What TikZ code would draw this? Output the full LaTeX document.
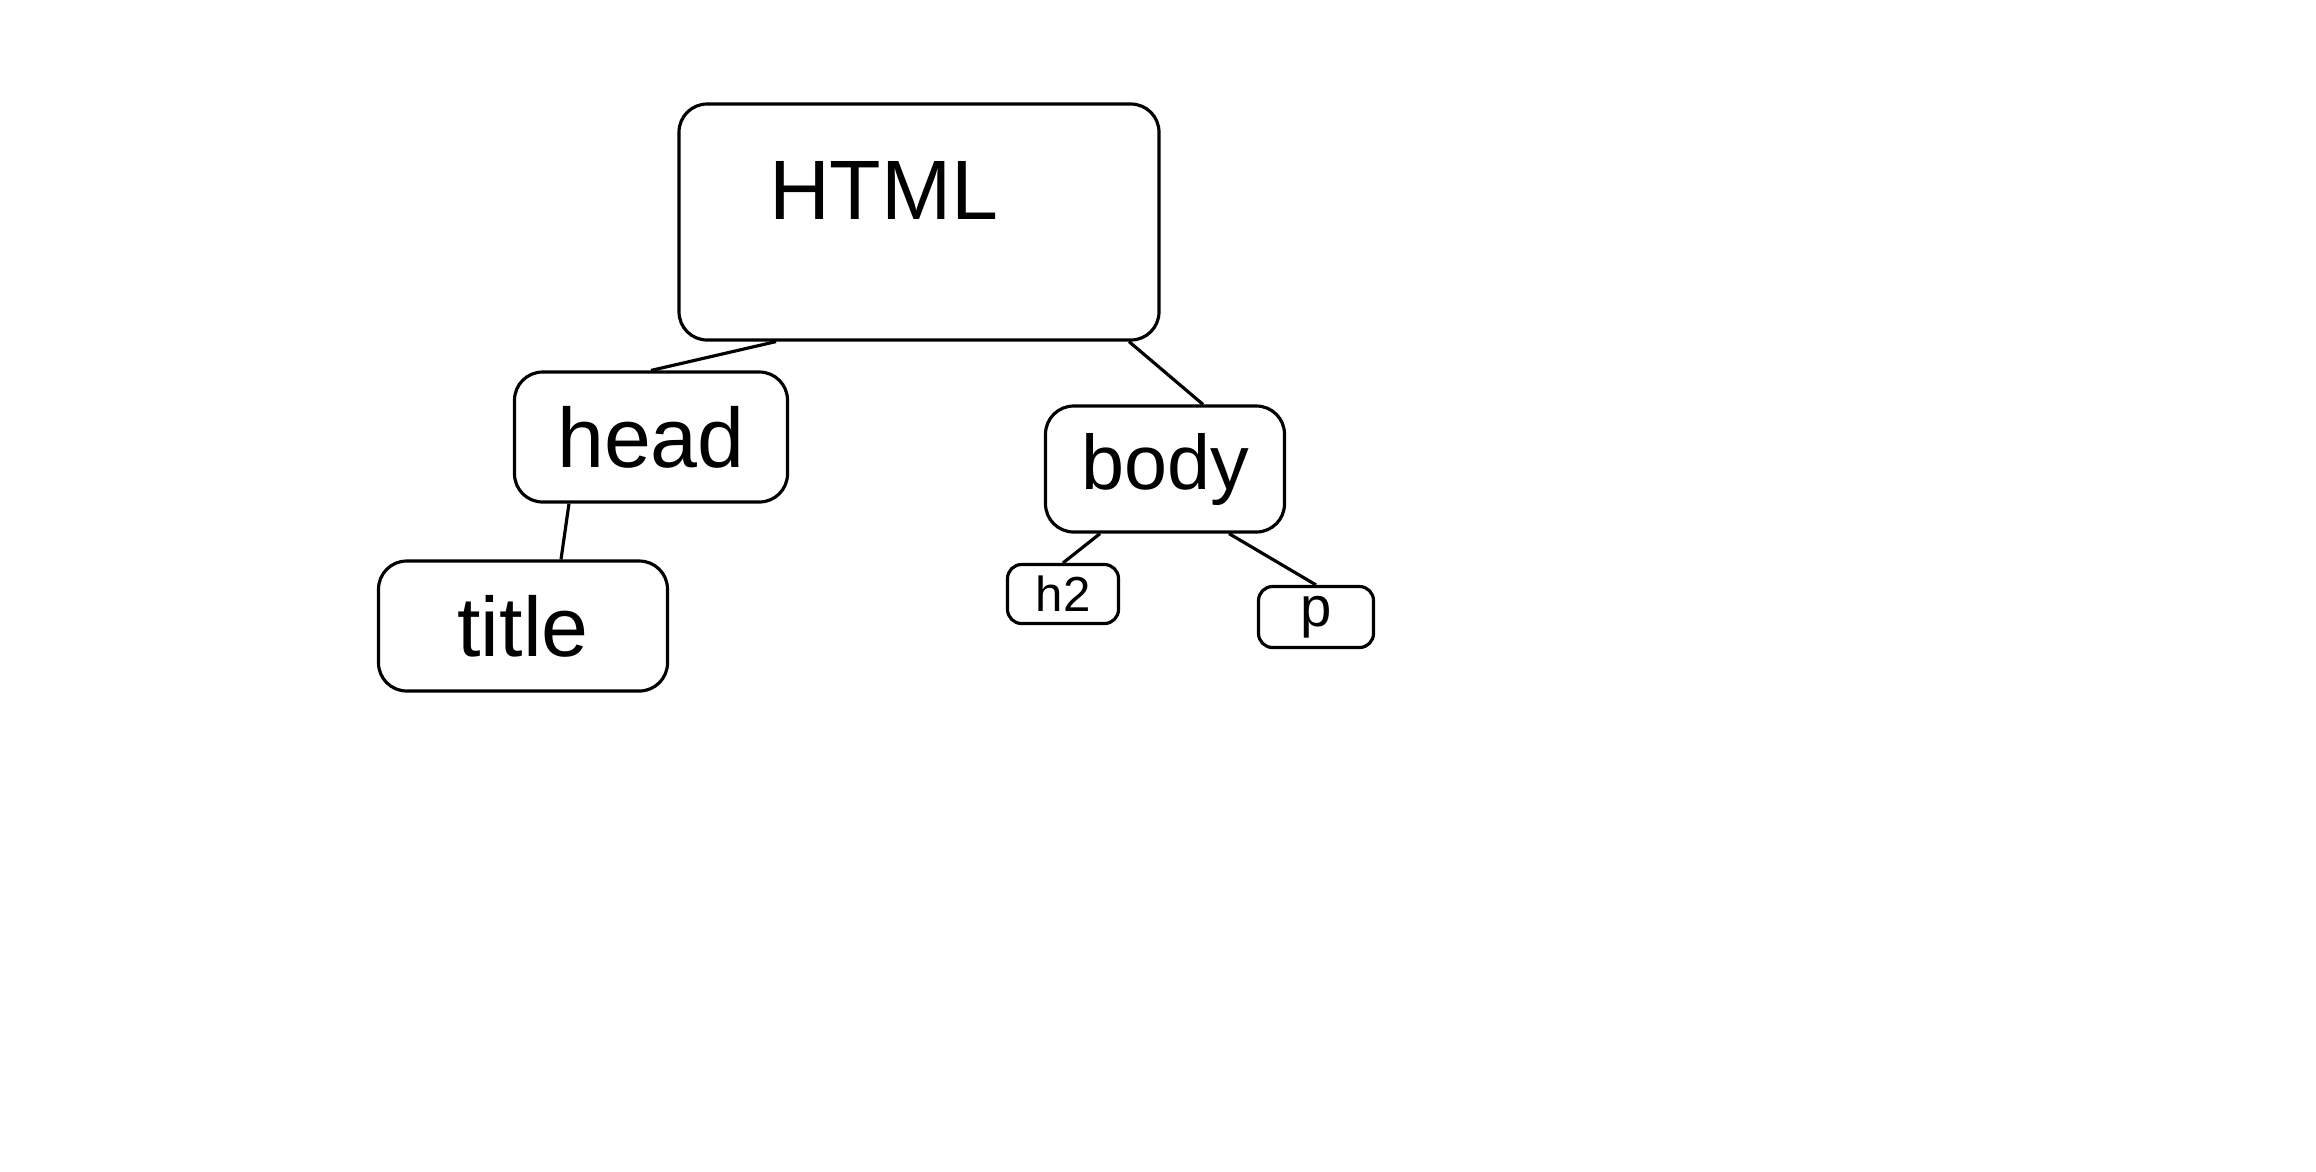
\documentclass[tikz,border=0pt]{standalone}
\usepackage{fontspec}
\setmainfont{Liberation Sans}
\usetikzlibrary{positioning}

\begin{document}
\begin{tikzpicture}[
  box/.style={draw, line width=0.9pt, rounded corners=8pt, inner sep=0pt},
  tag/.style={box, rounded corners=4pt},
  link/.style={line width=0.9pt}
]
\useasboundingbox (0,0) rectangle (23.16,-11.71);

% Root
\node[box, minimum width=4.80cm, minimum height=2.36cm,
  text width=3.0cm, align=left, text depth=0.64cm,
  font=\fontsize{24}{28}\selectfont] (html) at (9.19,-2.22) {HTML};

% Children of the root
\node[box, minimum width=2.73cm, minimum height=1.30cm,
  font=\fontsize{24}{28}\selectfont] (head) at (6.51,-4.37) {head};
\node[box, minimum width=2.39cm, minimum height=1.26cm,
  font=\fontsize{22}{26}\selectfont] (body) at (11.65,-4.69) {body};

% Leaves
\node[box, minimum width=2.89cm, minimum height=1.30cm,
  font=\fontsize{24}{28}\selectfont] (title) at (5.23,-6.26) {title};
\node[tag, minimum width=1.11cm, minimum height=0.59cm,
  font=\fontsize{14}{16}\selectfont] (h2) at (10.63,-5.94) {h2};
\node[tag, minimum width=1.15cm, minimum height=0.61cm,
  font=\fontsize{16}{18}\selectfont] (p) at (13.16,-6.17) {p};

% Links
\draw[link] ([xshift=-1.43cm]html.south) -- (head.north);
\draw[link] ([xshift=2.10cm]html.south) -- ([xshift=0.38cm]body.north);
\draw[link] ([xshift=-0.82cm]head.south) -- ([xshift=0.38cm]title.north);
\draw[link] ([xshift=-0.65cm]body.south) -- (h2.north);
\draw[link] ([xshift=0.64cm]body.south) -- (p.north);

\end{tikzpicture}
\end{document}
